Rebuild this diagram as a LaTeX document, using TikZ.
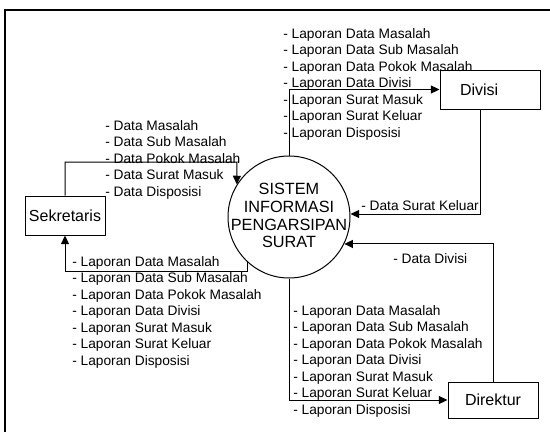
\documentclass[tikz,border=0pt]{standalone}
\usepackage{fontspec}
\setmainfont{Liberation Sans}
\usetikzlibrary{arrows.meta}
\begin{document}
\begin{tikzpicture}[x=0.75pt,y=-0.75pt,
  lbl/.style={inner sep=0pt, anchor=north west, align=left, font=\fontsize{10.3}{12.4}\selectfont},
  entity/.style={draw, line width=0.75pt, rectangle, inner sep=0pt, font=\fontsize{12}{14}\selectfont},
  proc/.style={draw, line width=0.75pt, circle, inner sep=0pt, minimum size=91.5pt},
  arr/.style={draw, line width=0.75pt, -{Triangle[length=6.5pt,width=6pt]}},
  frame/.style={draw, line width=1pt}]
\useasboundingbox (0,0) rectangle (550,432);
\draw[frame] (5,432) -- (5,10) -- (550,10);

\node[proc] (sys) at (289,217) {};
\node[align=center, inner sep=0pt, font=\fontsize{12.2}{13.4}\selectfont] (systext) at (289,215.5) {SISTEM\\INFORMASI\\PENGARSIPAN\\SURAT};

\node[entity, minimum width=60pt, minimum height=29.25pt] (sek) at (65,215.5) {Sekretaris};
\node[entity, minimum width=75pt, minimum height=29.25pt, text width=45pt, inner xsep=15pt, align=left] (div) at (490,89.5) {Divisi};
\node[entity, minimum width=67.5pt, minimum height=27pt] (dir) at (493,400) {Direktur};

\coordinate (k1) at (237,162);
\coordinate (k2) at (65,271);
\coordinate (k3) at (480,214);

% Sekretaris -> system
\draw[arr] (sek.north) |- (k1) -- (sys.148.4);
% system -> Sekretaris
\draw[arr] (sys.227.7) |- (k2) -- (sek.south);
% system -> Divisi
\draw[arr] (sys.north) |- (div.west);
% Divisi -> system
\draw[arr] (div.south -| k3) -- (k3) -- (k3 -| sys.east);
% Direktur -> system
\draw[arr] (dir.north) |- (sys.-26.3);
% system -> Direktur
\draw[arr] (sys.south) |- (dir.west);

\node[lbl] (l1) at (105,120) {- Data Masalah\\- Data Sub Masalah\\- Data Pokok Masalah\\- Data Surat Masuk\\- Data Disposisi};
\node[lbl] (l2) at (283,28) {- Laporan Data Masalah\\- Laporan Data Sub Masalah\\- Laporan Data Pokok Masalah\\- Laporan Data Divisi\\- Laporan Surat Masuk\\- Laporan Surat Keluar\\- Laporan Disposisi};
\node[lbl] (l3) at (72,256) {- Laporan Data Masalah\\- Laporan Data Sub Masalah\\- Laporan Data Pokok Masalah\\- Laporan Data Divisi\\- Laporan Surat Masuk\\- Laporan Surat Keluar\\- Laporan Disposisi};
\node[lbl] (l4) at (293,305) {- Laporan Data Masalah\\- Laporan Data Sub Masalah\\- Laporan Data Pokok Masalah\\- Laporan Data Divisi\\- Laporan Surat Masuk\\- Laporan Surat Keluar\\- Laporan Disposisi};
\node[lbl] (l5) at (361,200) {- Data Surat Keluar};
\node[lbl] (l6) at (393,253) {- Data Divisi};
\end{tikzpicture}
\end{document}
